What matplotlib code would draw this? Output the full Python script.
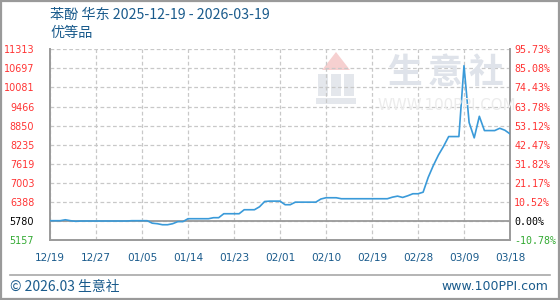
import matplotlib
matplotlib.use("Agg")
import matplotlib.pyplot as plt
from matplotlib.patches import Rectangle, Polygon
from matplotlib.lines import Line2D

# ---- data ----
prices = [5780, 5780, 5780, 5810, 5780, 5760, 5770, 5770, 5770, 5770,
          5770, 5770, 5770, 5770, 5770, 5770, 5780, 5780, 5780, 5780,
          5700, 5683, 5650, 5650, 5683, 5750, 5750, 5844, 5844, 5844,
          5844, 5844, 5877, 5877, 6005, 6005, 6005, 6005, 6134, 6134,
          6134, 6230, 6400, 6412, 6412, 6412, 6296, 6296, 6379, 6379,
          6379, 6379, 6379, 6480, 6521, 6521, 6521, 6489, 6489, 6489,
          6489, 6489, 6489, 6489, 6489, 6489, 6489, 6540, 6573, 6531,
          6585, 6650, 6650, 6700, 7180, 7562, 7900, 8180, 8496, 8496,
          8496, 10784, 8950, 8454, 9150, 8689, 8689, 8689, 8764, 8700,
          8583]
x_labels = ["12/19", "12/27", "01/05", "01/14", "01/23", "02/01",
            "02/10", "02/19", "02/28", "03/09", "03/18"]
left_ticks = [5157, 5780, 6388, 7003, 7619, 8235, 8850, 9466, 10081, 10697, 11313]
right_labels = ["-10.78%", "0.00%", "10.52%", "21.17%", "31.82%", "42.47%",
                "53.12%", "63.78%", "74.43%", "85.08%", "95.73%"]
base_price = 5780

CJK = ["Noto Sans CJK SC", "DejaVu Sans"]
BLUE_TXT = "#1a5b8c"
RED = "#ff3333"
GREEN = "#33aa33"
W, H = 560, 300

fig = plt.figure(figsize=(5.6, 3.0), dpi=100)
fig.patch.set_facecolor("white")

def fx(px):
    return px / W

def fy(py):
    return 1 - py / H

# outer frame
fig.add_artist(Rectangle((0.001, 0.002), 0.997, 0.995, transform=fig.transFigure,
                         fill=False, edgecolor="#9a9a9a", lw=1.6))
# footer separator
fig.add_artist(Line2D([fx(10), fx(550)], [fy(275), fy(275)], transform=fig.transFigure,
                      color="#a8a8a8", lw=1.2))

# watermark logo & text
fig.add_artist(Polygon([[fx(336), fy(52)], [fx(322), fy(70)], [fx(350), fy(70)]],
                       closed=True, transform=fig.transFigure,
                       facecolor="#f6d0d0", edgecolor="none", zorder=0))
for (x0, y0, w, h) in [(318, 74, 10, 22), (331, 74, 10, 22), (344, 74, 10, 22), (316, 98, 40, 6)]:
    fig.add_artist(Rectangle((fx(x0), fy(y0 + h)), w / W, h / H, transform=fig.transFigure,
                             facecolor="#e4e7ec", edgecolor="none", zorder=0))
for ch, cx in zip(["生", "意", "社"], [405, 445, 486]):
    fig.text(fx(cx), fy(72), ch, family=CJK, fontsize=25, fontweight="bold",
             color="#dfe3ea", ha="center", va="center", zorder=0)
fig.text(fx(447), fy(106), "WWW.100PPI.COM", family="DejaVu Sans", fontsize=10.8,
         color="#ececec", ha="center", va="center", zorder=0)

# axes
left, right, top, bottom = 50, 510, 49.3, 240
ax = fig.add_axes([fx(left), fy(bottom), (right - left) / W, (bottom - top) / H])
ax.set_facecolor("none")
n = len(prices)
xs = list(range(n))
ax.plot(xs, prices, color="#3a9ad9", lw=1.2, zorder=3)
ax.set_xlim(0, n - 1)
ax.set_ylim(left_ticks[0], left_ticks[-1])

ax.set_xticks(list(range(0, n, 9)))
ax.set_xticklabels(x_labels, family="DejaVu Sans", fontsize=7.6, color=BLUE_TXT)
ax.set_yticks(left_ticks)
ax.set_yticklabels([str(v) for v in left_ticks], family="DejaVu Sans", fontsize=6.9)
for lbl, v in zip(ax.get_yticklabels(), left_ticks):
    lbl.set_color("black" if v == base_price else (GREEN if v < base_price else RED))
ax.tick_params(axis="both", length=0)
ax.tick_params(axis="y", pad=11.3)
ax.tick_params(axis="x", pad=9)

ax.grid(True, color="#c8c8c8", ls=(0, (3, 2)), lw=0.9)
ax.axhline(base_price, color="#9a9a9a", lw=1.3, zorder=2)
for s in ["left", "bottom", "right"]:
    ax.spines[s].set_color("#9a9a9a")
    ax.spines[s].set_linewidth(1.4)
ax.spines["top"].set_visible(False)

ax2 = ax.twinx()
ax2.set_ylim(ax.get_ylim())
ax2.set_yticks(left_ticks)
ax2.set_yticklabels(right_labels, family="DejaVu Sans Mono", fontsize=7.2)
for lbl, v in zip(ax2.get_yticklabels(), left_ticks):
    lbl.set_color("black" if v == base_price else (GREEN if v < base_price else RED))
ax2.tick_params(axis="y", length=0, pad=3)
for s in ax2.spines.values():
    s.set_visible(False)

# titles
fig.text(fx(50), fy(15), "苯酚 华东 2025-12-19 - 2026-03-19", family=CJK, fontsize=10.2,
         color=BLUE_TXT, ha="left", va="center")
fig.text(fx(50), fy(33), "优等品", family=CJK, fontsize=10.2, color=BLUE_TXT,
         ha="left", va="center")
# footer
fig.text(fx(10), fy(287), "© 2026.03 生意社", family=CJK, fontsize=10,
         color=BLUE_TXT, ha="left", va="center")
fig.text(fx(548), fy(287), "www.100PPI.com", family="DejaVu Sans", fontsize=9,
         color=BLUE_TXT, ha="right", va="center")

fig.savefig("out.png", dpi=100)
